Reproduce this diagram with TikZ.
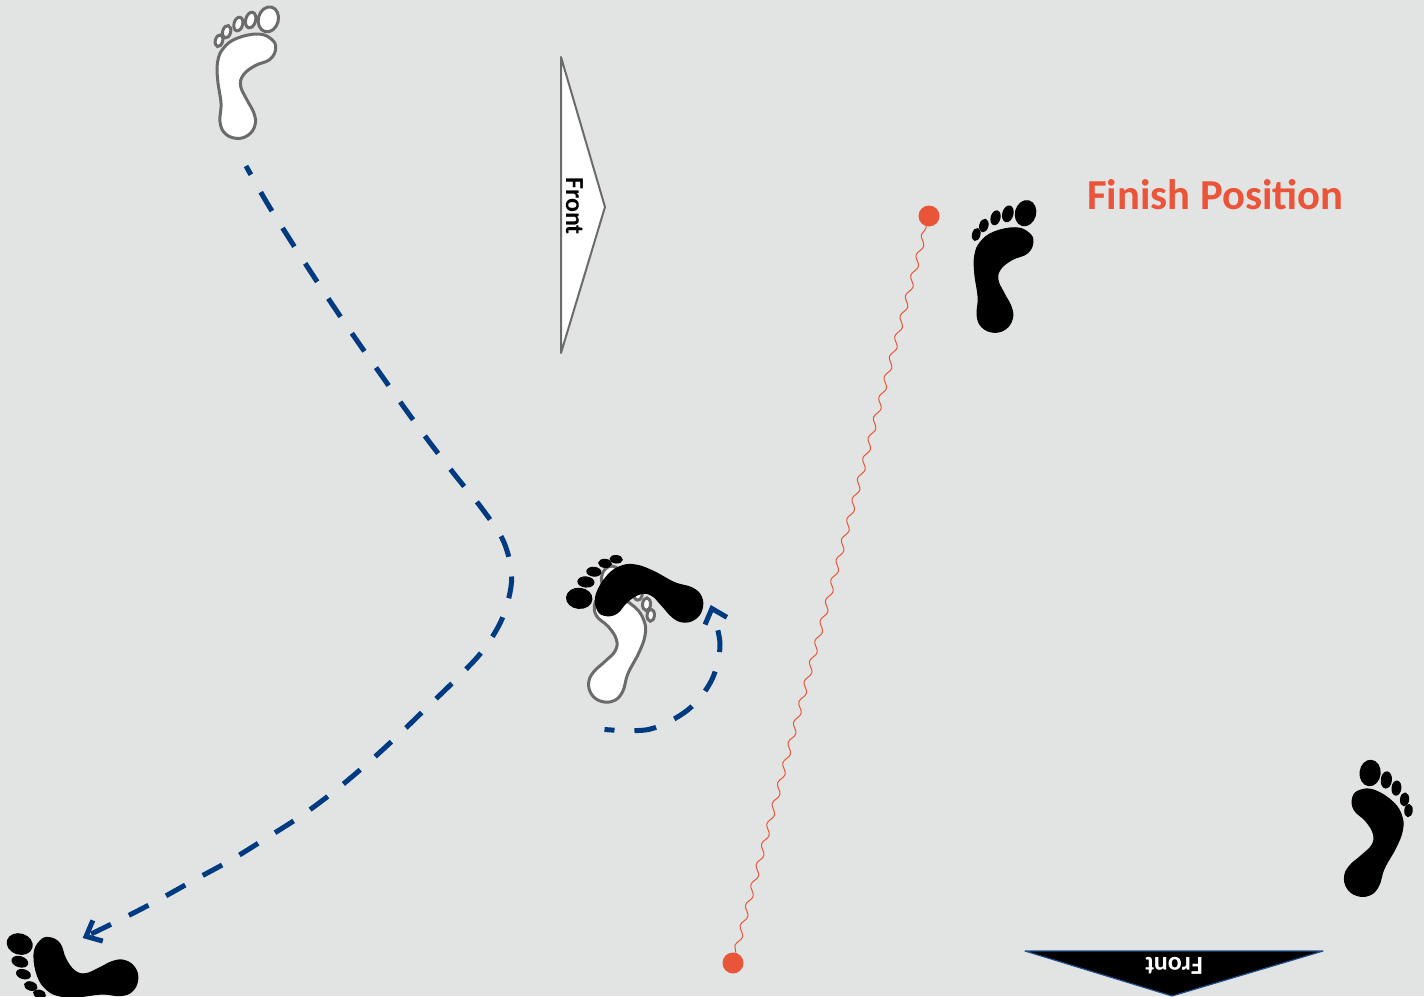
\documentclass[tikz,border=0pt]{standalone}
\usepackage{fontspec}
\setmainfont{Carlito}
\usetikzlibrary{arrows.meta,decorations.pathmorphing}
\definecolor{bgc}{HTML}{E2E4E3}
\definecolor{pathblue}{HTML}{003A80}
\definecolor{redc}{HTML}{EA5539}
\definecolor{greyc}{HTML}{6B6B6B}
\definecolor{edgeblue}{HTML}{1F4E8C}
\tikzset{
  whitefoot/.style={fill=white,draw=greyc,line width=3pt},
  blackfoot/.style={fill=black,draw=black,line width=1.2pt},
  walk/.style={draw=pathblue,line width=5pt,dash pattern=on 22pt off 20pt,dash phase=12pt,
    -{Straight Barb[length=13pt,width=23pt,line width=5pt]}},
  wavy/.style={draw=redc,line width=1pt,decorate,decoration={snake,segment length=21pt,amplitude=2.6pt}},
  dotnode/.style={circle,fill=redc,minimum size=21pt,inner sep=0pt},
  frontlabel/.style={font=\bfseries\fontsize{26}{26}\selectfont,inner sep=0pt},
  finishlabel/.style={font=\bfseries\fontsize{42.7}{43}\selectfont,text=redc,inner sep=0pt,anchor=west}
}
\newcommand{\footprint}[6]{%
  \begin{scope}[shift={(#1,#2)},rotate=#3,xscale=#4,yscale=#5,x=0.3333pt,y=-0.3333pt,shift={(-165,-215)}]
    \path[#6] plot[smooth cycle,tension=0.7] coordinates {(205,102)(245,118)(257,145)(240,178)(195,197)(160,225)(152,258)(170,298)(192,340)(195,375)(175,405)(140,415)(105,400)(90,365)(93,310)(83,240)(83,185)(100,145)(140,115)};
    \path[#6,rotate around={-15:(235,58)}] (235,58) ellipse [x radius=30,y radius=38];
    \path[#6,rotate around={-15:(182,60)}] (182,60) ellipse [x radius=15,y radius=24];
    \path[#6,rotate around={-15:(145,72)}] (145,72) ellipse [x radius=13,y radius=21];
    \path[#6,rotate around={-15:(110,95)}] (110,95) ellipse [x radius=12,y radius=19];
    \path[#6,rotate around={-15:(87,122)}] (87,122) ellipse [x radius=11,y radius=18];
  \end{scope}}
\begin{document}
\begin{tikzpicture}[x=1pt,y=-1pt]
\useasboundingbox (0,0) rectangle (1424,996);
\clip (0,0) rectangle (1424,996);
\fill[bgc] (0,0) rectangle (1424,996);

% feet
\footprint{245}{71.7}{0}{1}{1}{whitefoot}
\footprint{1002.2}{265.5}{0}{1}{1}{blackfoot}
\footprint{1373.1}{830.2}{-21}{-1}{1}{blackfoot}
\footprint{615.9}{635.8}{-19.5}{-1}{1}{whitefoot}
\footprint{636.4}{594.3}{70}{-1}{1}{blackfoot}
\footprint{71.3}{969}{88.2}{1}{1}{blackfoot}

% front arrows
\draw[fill=white,draw=greyc,line width=2pt,line join=round] (561,57) -- (605,207) -- (561,353) -- cycle;
\node[frontlabel,rotate=-90] (frontA) at (574.5,206) {Front};
\draw[fill=black,draw=edgeblue,line width=1.2pt,line join=round] (1025,951) -- (1323,951) -- (1172,996) -- cycle;
\node[frontlabel,rotate=180,text=white] (frontB) at (1174,966) {Front};

% finish
\node[finishlabel] (finish) at (1087,195) {Finish Position};

% blue walks
\coordinate (s1) at (246,166);
\coordinate (e1) at (82.7,938);
\draw[walk] plot[smooth,tension=0.55] coordinates {(s1)(266.3,201.7)(288.3,237)(311,272.3)(334,307)(357.7,341.7)(381.7,375.7)(406,410)(430.7,443.7)(456.3,476.7)(482.3,509)(503.7,541.7)(511.7,578.3)(502.7,617.3)(482.7,650.7)(456,679.3)(426.7,707.7)(396.7,736.7)(366,764.7)(334.3,791.3)(301,816)(266,838.3)(231,860)(194.3,880)(158.3,900)(121.7,919)(e1)};
\coordinate (s2) at (604.5,729.5);
\coordinate (e2) at (710.7,605);
\draw[walk] plot[smooth,tension=0.55] coordinates {(s2)(649.3,729.3)(687.7,710)(711.7,680)(720,644)(e2)};

% red line
\node[dotnode] (r1) at (733,963) {};
\node[dotnode] (r2) at (929,216) {};
\draw[wavy] (r1) -- (r2);
\end{tikzpicture}
\end{document}
